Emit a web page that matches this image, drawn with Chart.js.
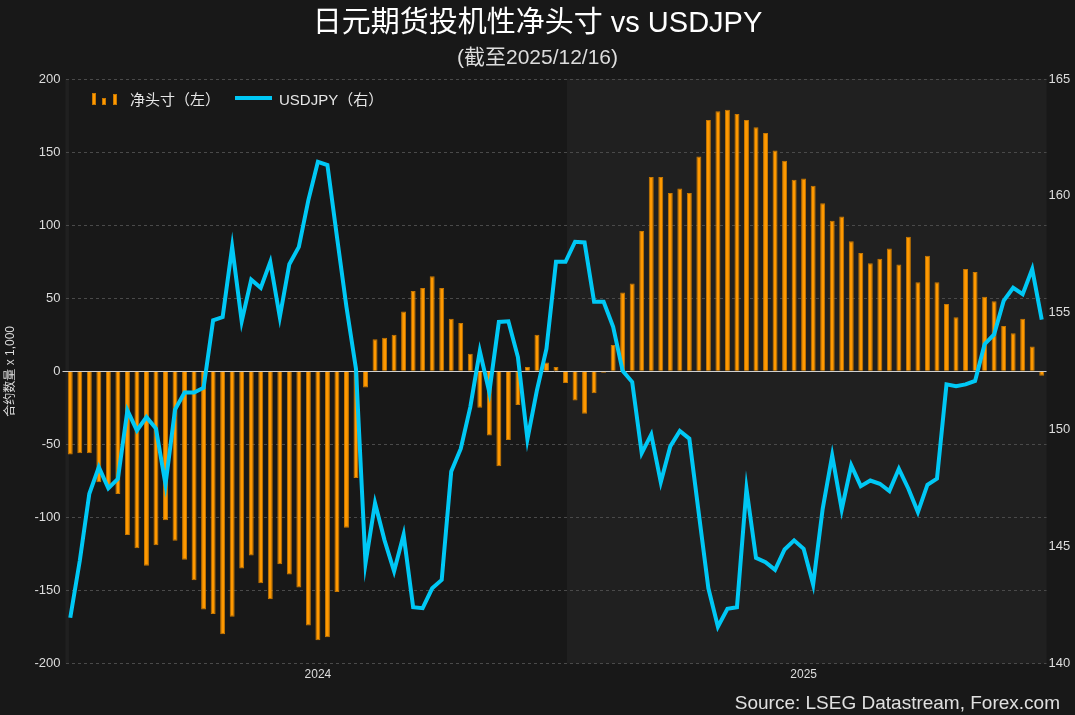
<!DOCTYPE html>
<html>
<head>
    <title>日元期货投机性净头寸 vs USDJPY</title>
    <script src="https://cdn.jsdelivr.net/npm/chart.js"></script>
    <style>
        body { margin: 0; background: #181818; }
        #wrap { position: relative; width: 1075px; height: 715px; font-family: 'Liberation Sans', 'Noto Sans CJK SC', sans-serif; }
        #legend { position: absolute; left: 92px; top: 88px; height: 20px; color: #e6e6e6; font-size: 15px; }
        #legend span { position: absolute; white-space: nowrap; }
        .bar { position: absolute; bottom: 0; width: 4px; background: #ff9900; box-shadow: inset 0 0 0 1px #c77700; }
        #source { position: absolute; right: 15px; top: 692px; color: #e0e0e0; font-size: 19px; }
    </style>
</head>
<body>
<div id="wrap">
    <canvas id="cotChart" width="1075" height="715"></canvas>
    <div id="legend">
        <span style="left:0;top:4px;width:26px;height:13px;">
            <i class="bar" style="left:0;height:12px"></i>
            <i class="bar" style="left:10px;height:7px"></i>
            <i class="bar" style="left:21px;height:11px"></i>
        </span>
        <span style="left:38px;top:0;">净头寸（左）</span>
        <span style="left:143px;top:8px;width:37px;height:4px;background:#00c8f5;"></span>
        <span style="left:187px;top:0;">USDJPY（右）</span>
    </div>
    <div id="source">Source: LSEG Datastream, Forex.com</div>
</div>
<script>
// weekly COT report dates (Tuesdays)
const weeks = [
    '2024-01-02','2024-01-09','2024-01-16','2024-01-23','2024-01-30','2024-02-06','2024-02-13','2024-02-20','2024-02-27',
    '2024-03-05','2024-03-12','2024-03-19','2024-03-26','2024-04-02','2024-04-09','2024-04-16','2024-04-23','2024-04-30',
    '2024-05-07','2024-05-14','2024-05-21','2024-05-28','2024-06-04','2024-06-11','2024-06-18','2024-06-25',
    '2024-07-02','2024-07-09','2024-07-16','2024-07-23','2024-07-30','2024-08-06','2024-08-13','2024-08-20','2024-08-27',
    '2024-09-03','2024-09-10','2024-09-17','2024-09-24','2024-10-01','2024-10-08','2024-10-15','2024-10-22','2024-10-29',
    '2024-11-05','2024-11-12','2024-11-19','2024-11-26','2024-12-03','2024-12-10','2024-12-17','2024-12-24','2024-12-31',
    '2025-01-07','2025-01-14','2025-01-21','2025-01-28','2025-02-04','2025-02-11','2025-02-18','2025-02-25',
    '2025-03-04','2025-03-11','2025-03-18','2025-03-25','2025-04-01','2025-04-08','2025-04-15','2025-04-22','2025-04-29',
    '2025-05-06','2025-05-13','2025-05-20','2025-05-27','2025-06-03','2025-06-10','2025-06-17','2025-06-24',
    '2025-07-01','2025-07-08','2025-07-15','2025-07-22','2025-07-29','2025-08-05','2025-08-12','2025-08-19','2025-08-26',
    '2025-09-02','2025-09-09','2025-09-16','2025-09-23','2025-09-30','2025-10-07','2025-10-14','2025-10-21','2025-10-28',
    '2025-11-04','2025-11-11','2025-11-18','2025-11-25','2025-12-02','2025-12-09','2025-12-16'
];

// speculative net position, contracts x 1,000
const netPosition = [
    -57, -56, -56, -76, -80, -84, -112, -121, -133, -119,
    -102, -116, -129, -143, -163, -166, -180, -168, -135, -126,
    -145, -156, -132, -139, -148, -174, -184, -182, -151, -107,
    -73, -11, 22, 23, 25, 41, 55, 57, 65, 57,
    36, 33, 12, -25, -44, -65, -47, -23, 3, 25,
    6, 3, -8, -20, -29, -15, -1, 18, 54, 60,
    96, 133, 133, 122, 125, 122, 147, 172, 178, 179,
    176, 172, 167, 163, 151, 144, 131, 132, 127, 115,
    103, 106, 89, 81, 74, 77, 84, 73, 92, 61,
    79, 61, 46, 37, 70, 68, 51, 48, 31, 26,
    36, 17, -3
];

const usdjpy = [
    141.96, 144.40, 147.26, 148.40, 147.50, 147.90, 150.83, 149.97, 150.54, 150.05,
    147.66, 150.86, 151.59, 151.59, 151.80, 154.68, 154.82, 157.82, 154.64, 156.42,
    156.07, 157.18, 154.82, 157.08, 157.82, 159.82, 161.46, 161.32, 158.25, 155.25,
    152.60, 144.29, 146.86, 145.27, 143.95, 145.51, 142.41, 142.37, 143.22, 143.58,
    148.22, 149.19, 150.97, 153.36, 151.61, 154.61, 154.64, 153.11, 149.60, 151.69,
    153.47, 157.18, 157.18, 158.04, 158.01, 155.47, 155.47, 154.40, 152.52, 152.04,
    149.00, 149.80, 147.76, 149.29, 149.95, 149.62, 146.40, 143.22, 141.58, 142.34,
    142.41, 147.48, 144.52, 144.34, 144.01, 144.88, 145.27, 144.91, 143.38, 146.62,
    148.90, 146.59, 148.48, 147.59, 147.83, 147.69, 147.38, 148.33, 147.48, 146.48,
    147.65, 147.91, 151.94, 151.86, 151.94, 152.09, 153.66, 154.08, 155.51, 156.07,
    155.80, 156.87, 154.71
];

const leftTicks = { min: -200, max: 200, step: 50 };
const rightTicks = { min: 140, max: 165, step: 5 };

const FONT = "'Liberation Sans', 'Noto Sans CJK SC', sans-serif";
const DAY = 86400000;
const t0 = Date.parse(weeks[0]);

// year label goes under the middle week of each year
const yearMid = {};
weeks.forEach((w, i) => {
    const y = w.slice(0, 4);
    if (!yearMid[y]) yearMid[y] = [i, i];
    yearMid[y][1] = i;
});
const yearLabelIdx = {};
Object.keys(yearMid).forEach(y => {
    yearLabelIdx[Math.floor((yearMid[y][0] + yearMid[y][1]) / 2)] = y;
});

// alternate shading per calendar year + solid zero line
const yearBands = {
    id: 'yearBands',
    beforeDraw(chart) {
        const { ctx, chartArea: a, scales: { x } } = chart;
        ctx.save();
        const first = +weeks[0].slice(0, 4) - 1;
        const last = +weeks[weeks.length - 1].slice(0, 4) + 1;
        for (let y = first; y <= last; y++) {
            if (y % 2 === 0) continue;
            const s = (Date.parse(y + '-01-01') - t0) / DAY / 7;
            const e = (Date.parse((y + 1) + '-01-01') - t0) / DAY / 7;
            const x1 = Math.max(a.left, x.getPixelForValue(s));
            const x2 = Math.min(a.right, x.getPixelForValue(e));
            if (x2 > x1) {
                ctx.fillStyle = '#202020';
                ctx.fillRect(x1, a.top, x2 - x1, a.bottom - a.top);
            }
        }
        ctx.restore();
    },
    beforeDatasetsDraw(chart) {
        const { ctx, chartArea: a, scales: { y } } = chart;
        const zy = Math.round(y.getPixelForValue(0)) + 0.5;
        ctx.save();
        ctx.strokeStyle = '#d0d0d0';
        ctx.lineWidth = 1;
        ctx.beginPath();
        ctx.moveTo(a.left - 3, zy);
        ctx.lineTo(a.right, zy);
        ctx.stroke();
        ctx.restore();
    }
};

const ctx = document.getElementById('cotChart').getContext('2d');
new Chart(ctx, {
    type: 'bar',
    data: {
        labels: weeks,
        datasets: [{
            type: 'bar',
            label: '净头寸（左）',
            data: netPosition,
            yAxisID: 'y',
            backgroundColor: '#ff9900',
            borderColor: '#c77700',
            borderWidth: 1,
            barPercentage: 0.52,
            categoryPercentage: 1,
            order: 2
        }, {
            type: 'line',
            label: 'USDJPY（右）',
            data: usdjpy,
            yAxisID: 'y1',
            borderColor: '#00c8f5',
            borderWidth: 4,
            pointRadius: 0,
            tension: 0,
            order: 1
        }]
    },
    options: {
        responsive: false,
        animation: false,
        layout: { padding: { left: 0, right: 0, top: 0, bottom: 29 } },
        plugins: {
            legend: { display: false },
            tooltip: { enabled: false },
            title: {
                display: true,
                text: '日元期货投机性净头寸 vs USDJPY',
                color: '#ffffff',
                font: { family: FONT, size: 29, weight: 'normal' },
                padding: { top: 7, bottom: 4 }
            },
            subtitle: {
                display: true,
                text: '(截至2025/12/16)',
                color: '#dddddd',
                font: { family: FONT, size: 21 },
                padding: { top: 0, bottom: 8 }
            }
        },
        scales: {
            x: {
                grid: { display: false, drawTicks: false },
                border: { display: false },
                ticks: {
                    autoSkip: false,
                    maxRotation: 0,
                    padding: 4,
                    color: '#dddddd',
                    font: { family: FONT, size: 12 },
                    callback: (v, i) => yearLabelIdx[i] || ''
                }
            },
            y: {
                position: 'left',
                min: leftTicks.min,
                max: leftTicks.max,
                afterFit: s => { s.width = 65.5; },
                ticks: {
                    stepSize: leftTicks.step,
                    padding: 5,
                    color: '#dddddd',
                    font: { family: FONT, size: 13 }
                },
                grid: {
                    color: c => c.tick.value === 0 ? 'rgba(0,0,0,0)' : '#4a4a4a',
                    drawTicks: false,
                    lineWidth: 1
                },
                border: { display: false, dash: [3, 3] },
                title: {
                    display: true,
                    text: '合约数量 x 1,000',
                    color: '#dddddd',
                    font: { family: FONT, size: 12 },
                    padding: { top: 3, bottom: 0 }
                }
            },
            y1: {
                position: 'right',
                min: rightTicks.min,
                max: rightTicks.max,
                afterFit: s => { s.width = 28.5; },
                ticks: {
                    stepSize: rightTicks.step,
                    padding: 2,
                    color: '#dddddd',
                    font: { family: FONT, size: 13 }
                },
                grid: { display: false, drawTicks: false },
                border: { display: false }
            }
        }
    },
    plugins: [yearBands]
});
</script>
</body>
</html>
